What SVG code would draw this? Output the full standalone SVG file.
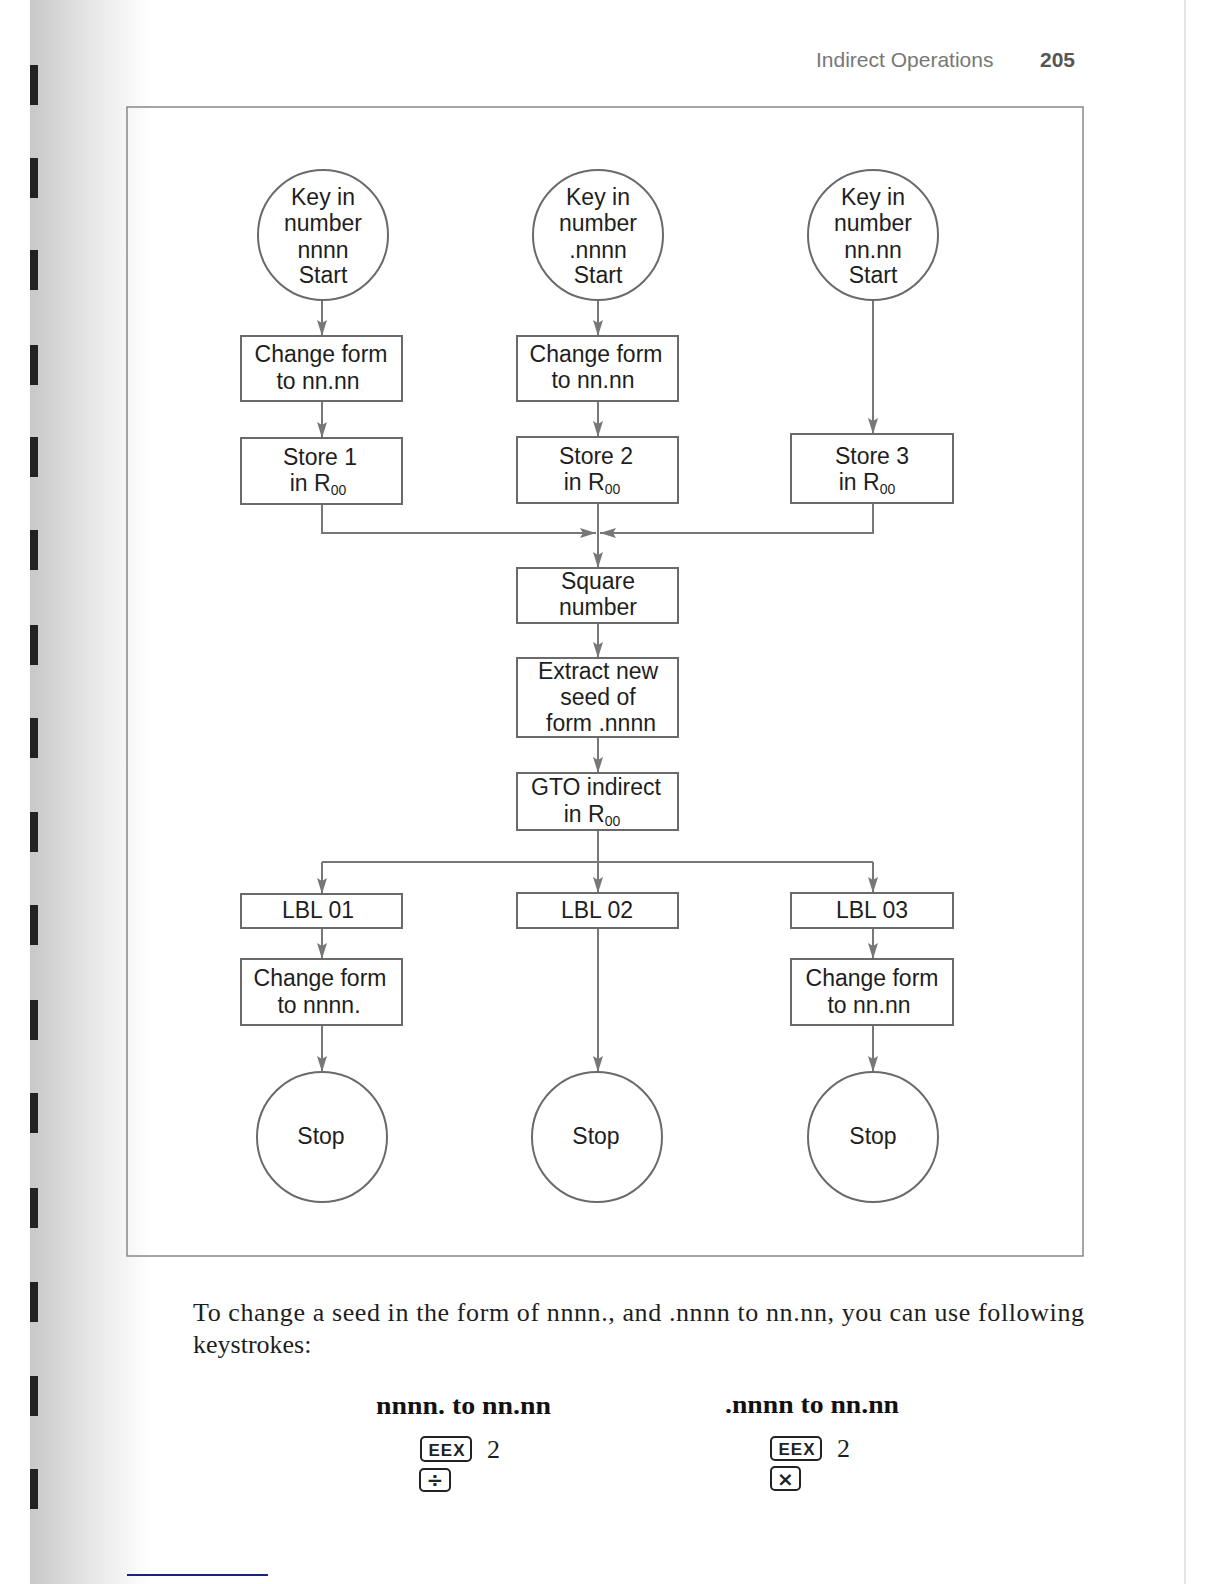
<svg xmlns="http://www.w3.org/2000/svg" width="1224" height="1584" viewBox="0 0 1224 1584">
<defs>
<linearGradient id="bind" x1="0" y1="0" x2="1" y2="0">
<stop offset="0" stop-color="#c8c8c8"/>
<stop offset="0.5" stop-color="#e6e6e6"/>
<stop offset="1" stop-color="#ffffff"/>
</linearGradient>
<marker id="ah" markerUnits="userSpaceOnUse" markerWidth="16" markerHeight="10" refX="16" refY="5" viewBox="0 0 16 10" orient="auto">
<path d="M0,0 L16,5 L0,10 L3,5 Z" fill="#777"/>
</marker>
<style>
.nd{fill:#fff;stroke:#6a6a6a;stroke-width:2}
.t{font-family:"Liberation Sans",Arial,sans-serif;font-size:23px;fill:#1e1e1e;text-anchor:middle}
.sub{font-size:14px}
.c{stroke:#777;stroke-width:2;fill:none}
.ca{stroke:#777;stroke-width:2;fill:none;marker-end:url(#ah)}
.body{font-family:"Liberation Serif","Times New Roman",serif;font-size:26px;fill:#1e1e1e}
.hd{font-family:"Liberation Serif","Times New Roman",serif;font-size:26px;font-weight:bold;fill:#111}
.key{fill:#fff;stroke:#222;stroke-width:2}
.kt{font-family:"Liberation Sans",Arial,sans-serif;font-size:17px;font-weight:bold;fill:#222;text-anchor:middle;letter-spacing:1px}
.ks{font-family:"DejaVu Sans","Liberation Sans",sans-serif;font-size:20px;font-weight:bold;fill:#222;text-anchor:middle}
</style>
</defs>
<rect x="0" y="0" width="1224" height="1584" fill="#fff"/>
<rect x="30" y="0" width="120" height="1584" fill="url(#bind)"/>
<g id="binding" fill="#222">
<rect x="30" y="65" width="8" height="40"/><rect x="30" y="158" width="8" height="40"/><rect x="30" y="250" width="8" height="40"/><rect x="30" y="345" width="8" height="40"/><rect x="30" y="437" width="8" height="40"/><rect x="30" y="530" width="8" height="40"/><rect x="30" y="625" width="8" height="40"/><rect x="30" y="718" width="8" height="40"/><rect x="30" y="812" width="8" height="40"/><rect x="30" y="905" width="8" height="40"/><rect x="30" y="1000" width="8" height="40"/><rect x="30" y="1093" width="8" height="40"/><rect x="30" y="1188" width="8" height="40"/><rect x="30" y="1282" width="8" height="40"/><rect x="30" y="1376" width="8" height="40"/><rect x="30" y="1469" width="8" height="40"/>
</g>
<line x1="1185" y1="0" x2="1185" y2="1584" stroke="#ddd" stroke-width="1.5"/>
<text x="816" y="67" font-family="'Liberation Sans',Arial,sans-serif" font-size="21" fill="#777">Indirect Operations</text>
<text x="1040" y="67" font-family="'Liberation Sans',Arial,sans-serif" font-size="21" font-weight="bold" fill="#555">205</text>
<rect x="127" y="107" width="956" height="1149" fill="none" stroke="#888" stroke-width="1.5"/>
<g id="connectors">
<line class="ca" x1="322" y1="300" x2="322" y2="336"/>
<line class="ca" x1="598" y1="300" x2="598" y2="336"/>
<line class="ca" x1="873" y1="300" x2="873" y2="434"/>
<line class="ca" x1="322" y1="401" x2="322" y2="438"/>
<line class="ca" x1="598" y1="401" x2="598" y2="437"/>
<polyline class="ca" points="322,504 322,533 596,533"/>
<polyline class="ca" points="873,503 873,533 600,533"/>
<line class="ca" x1="598" y1="503" x2="598" y2="568"/>
<line class="ca" x1="598" y1="623" x2="598" y2="658"/>
<line class="ca" x1="598" y1="737" x2="598" y2="773"/>
<line class="c" x1="598" y1="830" x2="598" y2="862"/>
<line class="c" x1="322" y1="862" x2="873" y2="862"/>
<line class="ca" x1="322" y1="862" x2="322" y2="894"/>
<line class="ca" x1="598" y1="862" x2="598" y2="893"/>
<line class="ca" x1="873" y1="862" x2="873" y2="893"/>
<line class="ca" x1="322" y1="928" x2="322" y2="959"/>
<line class="ca" x1="873" y1="928" x2="873" y2="959"/>
<line class="ca" x1="322" y1="1025" x2="322" y2="1072"/>
<line class="ca" x1="598" y1="928" x2="598" y2="1072"/>
<line class="ca" x1="873" y1="1025" x2="873" y2="1072"/>
</g>
<g id="start1"><circle class="nd" cx="323" cy="235" r="65"/><text class="t" x="323" y="205">Key in</text><text class="t" x="323" y="231">number</text><text class="t" x="323" y="258">nnnn</text><text class="t" x="323" y="283">Start</text></g>
<g id="start2"><circle class="nd" cx="598" cy="235" r="65"/><text class="t" x="598" y="205">Key in</text><text class="t" x="598" y="231">number</text><text class="t" x="598" y="258">.nnnn</text><text class="t" x="598" y="283">Start</text></g>
<g id="start3"><circle class="nd" cx="873" cy="235" r="65"/><text class="t" x="873" y="205">Key in</text><text class="t" x="873" y="231">number</text><text class="t" x="873" y="258">nn.nn</text><text class="t" x="873" y="283">Start</text></g>
<g id="change1"><rect class="nd" x="241" y="336" width="161" height="65"/><text class="t" x="321" y="362">Change form</text><text class="t" x="318" y="389">to nn.nn</text></g>
<g id="change2"><rect class="nd" x="517" y="336" width="161" height="65"/><text class="t" x="596" y="362">Change form</text><text class="t" x="593" y="388">to nn.nn</text></g>
<g id="store1"><rect class="nd" x="241" y="438" width="161" height="66"/><text class="t" x="320" y="465">Store 1</text><text class="t" x="318" y="491">in R<tspan class="sub" dy="4">00</tspan></text></g>
<g id="store2"><rect class="nd" x="517" y="437" width="161" height="66"/><text class="t" x="596" y="464">Store 2</text><text class="t" x="592" y="490">in R<tspan class="sub" dy="4">00</tspan></text></g>
<g id="store3"><rect class="nd" x="791" y="434" width="162" height="69"/><text class="t" x="872" y="464">Store 3</text><text class="t" x="867" y="490">in R<tspan class="sub" dy="4">00</tspan></text></g>
<g id="square"><rect class="nd" x="517" y="568" width="161" height="55"/><text class="t" x="598" y="589">Square</text><text class="t" x="598" y="615">number</text></g>
<g id="extract"><rect class="nd" x="517" y="658" width="161" height="79"/><text class="t" x="598" y="679">Extract new</text><text class="t" x="598" y="705">seed of</text><text class="t" x="601" y="731">form .nnnn</text></g>
<g id="gto"><rect class="nd" x="517" y="773" width="161" height="57"/><text class="t" x="596" y="795">GTO indirect</text><text class="t" x="592" y="822">in R<tspan class="sub" dy="4">00</tspan></text></g>
<g id="lbl01"><rect class="nd" x="241" y="894" width="161" height="34"/><text class="t" x="318" y="918">LBL 01</text></g>
<g id="lbl02"><rect class="nd" x="517" y="893" width="161" height="35"/><text class="t" x="597" y="918">LBL 02</text></g>
<g id="lbl03"><rect class="nd" x="791" y="893" width="162" height="35"/><text class="t" x="872" y="918">LBL 03</text></g>
<g id="change4"><rect class="nd" x="241" y="959" width="161" height="66"/><text class="t" x="320" y="986">Change form</text><text class="t" x="319" y="1013">to nnnn.</text></g>
<g id="change5"><rect class="nd" x="791" y="959" width="162" height="66"/><text class="t" x="872" y="986">Change form</text><text class="t" x="869" y="1013">to nn.nn</text></g>
<g id="stop1"><circle class="nd" cx="322" cy="1137" r="65"/><text class="t" x="321" y="1144">Stop</text></g>
<g id="stop2"><circle class="nd" cx="597" cy="1137" r="65"/><text class="t" x="596" y="1144">Stop</text></g>
<g id="stop3"><circle class="nd" cx="873" cy="1137" r="65"/><text class="t" x="873" y="1144">Stop</text></g>
<text class="body" x="193" y="1321" textLength="891" lengthAdjust="spacing">To change a seed in the form of nnnn., and .nnnn to nn.nn, you can use following</text>
<text class="body" x="193" y="1353">keystrokes:</text>
<text class="hd" x="376" y="1414" textLength="175" lengthAdjust="spacingAndGlyphs">nnnn. to nn.nn</text>
<text class="hd" x="725" y="1413" textLength="174" lengthAdjust="spacingAndGlyphs">.nnnn to nn.nn</text>
<rect class="key" x="421" y="1437" width="50" height="24" rx="4"/><text class="kt" x="447" y="1456">EEX</text>
<text class="body" x="487" y="1458">2</text>
<rect class="key" x="420" y="1469" width="30" height="22" rx="4"/><text class="ks" x="435" y="1487">÷</text>
<rect class="key" x="771" y="1437" width="50" height="23" rx="4"/><text class="kt" x="797" y="1455">EEX</text>
<text class="body" x="837" y="1457">2</text>
<rect class="key" x="771" y="1467" width="29" height="23" rx="4"/><text class="ks" x="785.5" y="1486">×</text>
<line x1="127" y1="1575" x2="268" y2="1575" stroke="#1a237e" stroke-width="2"/>
</svg>
